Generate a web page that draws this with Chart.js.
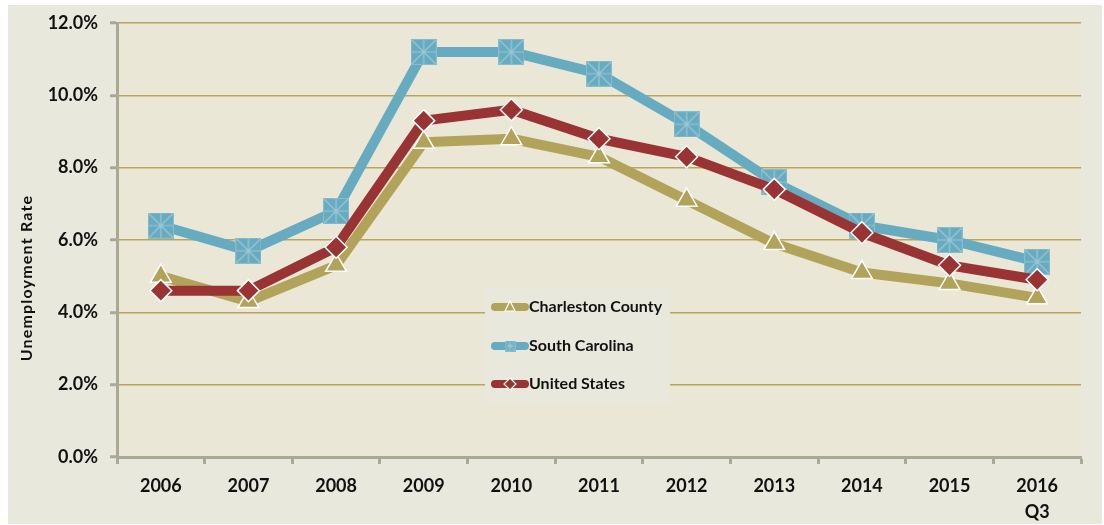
<!DOCTYPE html>
<html>
<head>
<meta charset="utf-8">
<script src="https://cdn.jsdelivr.net/npm/chart.js@4.4.0/dist/chart.umd.min.js"></script>
<style>
  html, body { margin: 0; padding: 0; background: #ffffff; }
  #wrap { position: relative; width: 1104px; height: 525px; }
  canvas { display: block; }
</style>
</head>
<body>
<div id="wrap"><canvas id="c" width="1104" height="525"></canvas></div>
<script>
const categories = ['2006', '2007', '2008', '2009', '2010', '2011', '2012', '2013', '2014', '2015', ['2016', 'Q3']];
const charlestonCounty = [5.0, 4.3, 5.3, 8.7, 8.8, 8.3, 7.1, 5.9, 5.1, 4.8, 4.4];
const southCarolina = [6.4, 5.7, 6.8, 11.2, 11.2, 10.6, 9.2, 7.6, 6.4, 6.0, 5.4];
const unitedStates = [4.6, 4.6, 5.8, 9.3, 9.6, 8.8, 8.3, 7.4, 6.2, 5.3, 4.9];
const seriesNames = ['Charleston County', 'South Carolina', 'United States'];
const yTitle = 'Unemployment Rate';

const COL_CH = '#B2A35A';
const COL_SC = '#67ABC0';
const COL_US = '#993334';
const FONT = 'Lato, "Open Sans", "DejaVu Sans", sans-serif';

function makeStarSquare(size, lw) {
  const cv = document.createElement('canvas');
  cv.width = size; cv.height = size;
  const g = cv.getContext('2d');
  g.fillStyle = COL_SC;
  g.fillRect(0, 0, size, size);
  g.strokeStyle = '#86BCCC';
  g.lineWidth = 1;
  g.strokeRect(0.5, 0.5, size - 1, size - 1);
  g.strokeStyle = '#9CC8D5';
  g.lineWidth = lw;
  g.beginPath();
  g.moveTo(1, 1); g.lineTo(size - 1, size - 1);
  g.moveTo(size - 1, 1); g.lineTo(1, size - 1);
  g.moveTo(size / 2, 1); g.lineTo(size / 2, size - 1);
  g.moveTo(1, size / 2); g.lineTo(size - 1, size / 2);
  g.stroke();
  return cv;
}
const scMarker = makeStarSquare(26, 1.2);
const scMarkerSmall = makeStarSquare(11, 1);

const bgPlugin = {
  id: 'bg',
  beforeDraw(chart) {
    const ctx = chart.ctx, a = chart.chartArea;
    ctx.save();
    ctx.fillStyle = '#ffffff';
    ctx.fillRect(0, 0, chart.width, chart.height);
    ctx.fillStyle = '#E9E8DC';
    ctx.fillRect(8, 5, 1094, 519);
    ctx.fillStyle = '#EBE7D6';
    ctx.fillRect(a.left, a.top, a.right - a.left, a.bottom - a.top);
    ctx.restore();
  },
  afterDraw(chart) {
    const ctx = chart.ctx;
    ctx.save();
    // y axis title
    ctx.translate(27, 278);
    ctx.rotate(-Math.PI / 2);
    ctx.fillStyle = '#111111';
    ctx.font = 'bold 16px ' + FONT;
    try { ctx.letterSpacing = '1.2px'; } catch (e) {}
    ctx.textAlign = 'center';
    ctx.textBaseline = 'middle';
    ctx.fillText(yTitle, 0, 0);
    try { ctx.letterSpacing = '0px'; } catch (e) {}
    ctx.restore();

    // legend
    ctx.save();
    ctx.fillStyle = '#E9E8DC';
    ctx.fillRect(485, 288, 185, 115);
    const rows = [307, 346, 384];
    const cols = [COL_CH, COL_SC, COL_US];
    rows.forEach((y, i) => {
      ctx.strokeStyle = cols[i];
      ctx.lineWidth = 8;
      ctx.lineCap = 'round';
      ctx.beginPath();
      ctx.moveTo(495, y); ctx.lineTo(525, y);
      ctx.stroke();
      const cx = 510;
      if (i === 0) {
        ctx.beginPath();
        ctx.moveTo(cx, y - 6); ctx.lineTo(cx + 5, y + 4); ctx.lineTo(cx - 5, y + 4); ctx.closePath();
        ctx.fillStyle = COL_CH; ctx.fill();
        ctx.strokeStyle = '#ffffff'; ctx.lineWidth = 1.2; ctx.lineCap = 'butt'; ctx.stroke();
      } else if (i === 1) {
        ctx.drawImage(scMarkerSmall, cx - 5.5, y - 5.5);
      } else {
        ctx.beginPath();
        ctx.moveTo(cx, y - 6); ctx.lineTo(cx + 6, y); ctx.lineTo(cx, y + 6); ctx.lineTo(cx - 6, y); ctx.closePath();
        ctx.fillStyle = COL_US; ctx.fill();
        ctx.strokeStyle = '#ffffff'; ctx.lineWidth = 1.2; ctx.lineCap = 'butt'; ctx.stroke();
      }
      ctx.fillStyle = '#111111';
      ctx.font = 'bold 16px ' + FONT;
      ctx.textAlign = 'left';
      ctx.textBaseline = 'middle';
      ctx.fillText(seriesNames[i], 529, y);
    });
    ctx.restore();
  }
};

new Chart(document.getElementById('c'), {
  type: 'line',
  data: {
    labels: categories,
    datasets: [
      {
        label: seriesNames[0], data: charlestonCounty, order: 2,
        borderColor: COL_CH, backgroundColor: COL_CH, borderWidth: 10,
        borderJoinStyle: 'round', tension: 0,
        pointStyle: 'triangle', pointRadius: 12, pointHoverRadius: 12,
        pointBackgroundColor: COL_CH, pointBorderColor: '#ffffff', pointBorderWidth: 1.5
      },
      {
        label: seriesNames[1], data: southCarolina, order: 1,
        borderColor: COL_SC, backgroundColor: COL_SC, borderWidth: 10,
        borderJoinStyle: 'round', tension: 0,
        pointStyle: scMarker, pointRadius: 13, pointHoverRadius: 13
      },
      {
        label: seriesNames[2], data: unitedStates, order: 0,
        borderColor: COL_US, backgroundColor: COL_US, borderWidth: 10,
        borderJoinStyle: 'round', tension: 0,
        pointStyle: 'rectRot', pointRadius: 11, pointHoverRadius: 11,
        pointBackgroundColor: COL_US, pointBorderColor: '#ffffff', pointBorderWidth: 1.5
      }
    ]
  },
  options: {
    responsive: false,
    animation: false,
    devicePixelRatio: 1,
    layout: { padding: { top: 20, right: 7, left: 0, bottom: 0 } },
    plugins: { legend: { display: false }, tooltip: { enabled: false } },
    scales: {
      x: {
        offset: true,
        afterFit(s) { s.height = 68; },
        grid: {
          offset: true, drawOnChartArea: false, drawTicks: true,
          tickLength: 7, tickColor: '#A9AA96', tickWidth: 3
        },
        border: { color: '#A9AA96', width: 3 },
        ticks: {
          color: '#111111', padding: 10,
          font: { family: FONT, size: 18, weight: 'bold', lineHeight: 1.4 },
          maxRotation: 0
        }
      },
      y: {
        min: 0, max: 12,
        afterFit(s) { s.width = 117; },
        grid: {
          color: '#B9A45C', lineWidth: 1.5,
          tickLength: 7, tickColor: '#A9AA96', tickWidth: 3
        },
        border: { color: '#A9AA96', width: 3 },
        ticks: {
          stepSize: 2, color: '#111111', padding: 12,
          font: { family: FONT, size: 18, weight: 'bold' },
          callback: v => v.toFixed(1) + '%'
        }
      }
    }
  },
  plugins: [bgPlugin]
});
</script>
</body>
</html>
